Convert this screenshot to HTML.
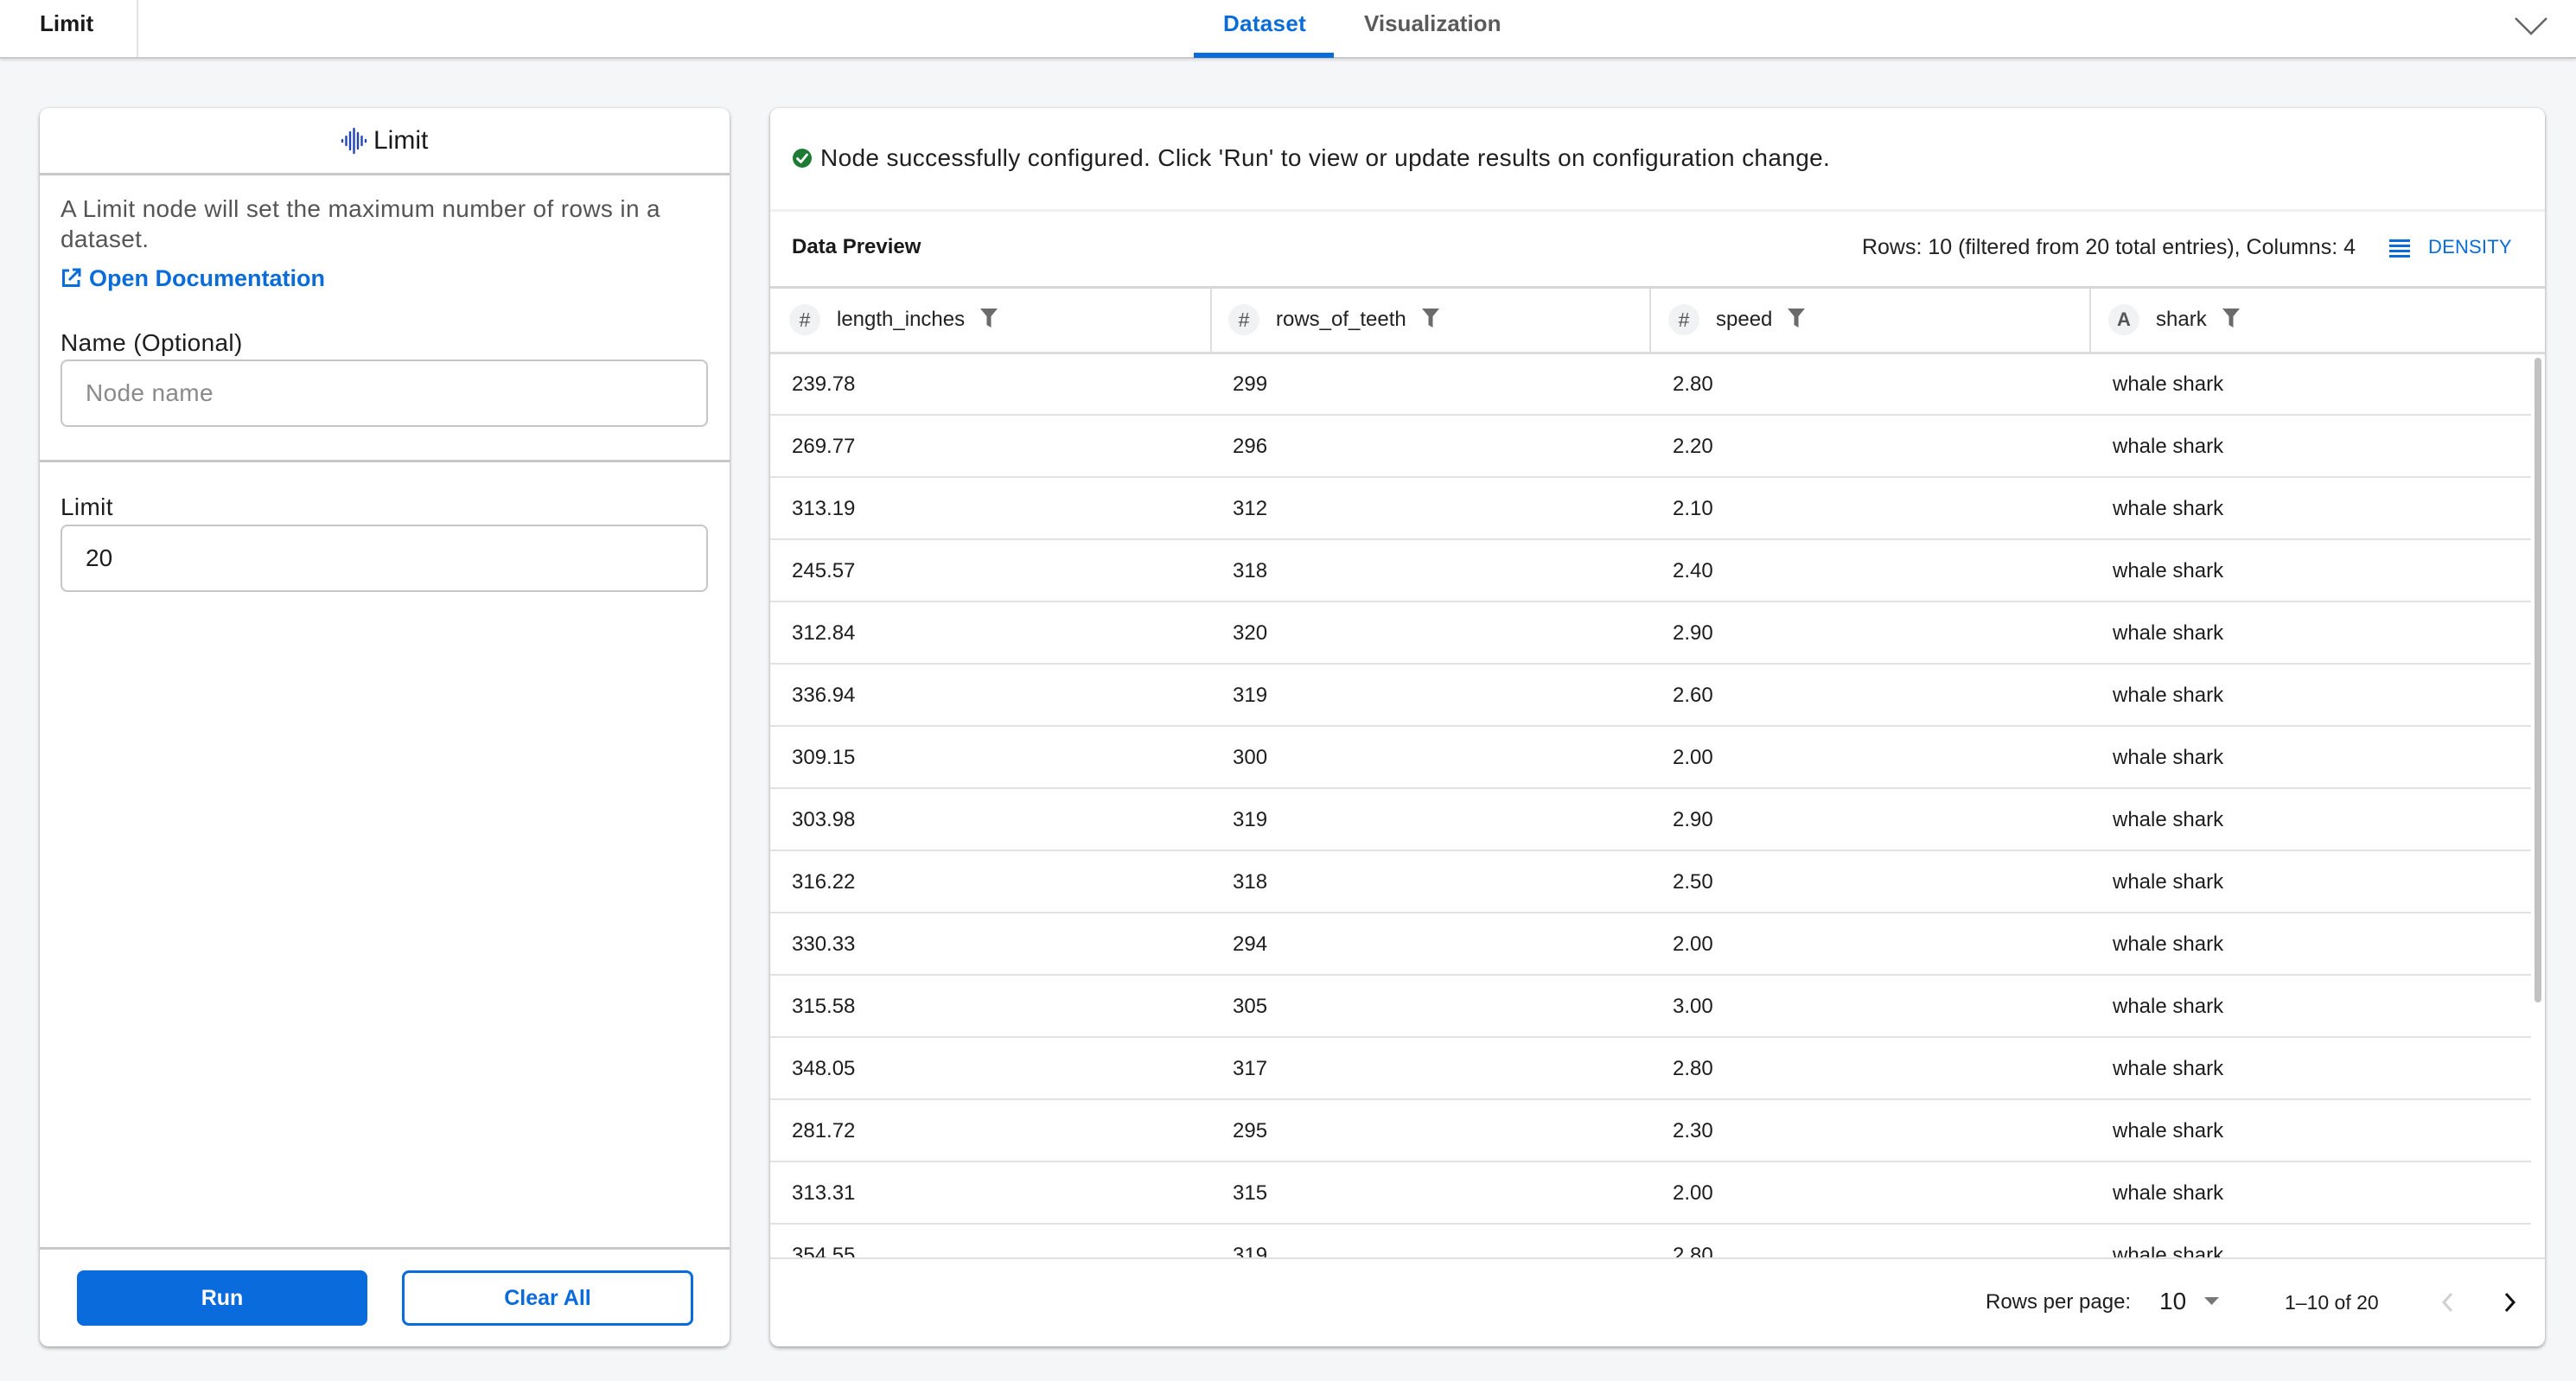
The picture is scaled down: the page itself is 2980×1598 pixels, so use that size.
<!DOCTYPE html>
<html>
<head>
<meta charset="utf-8">
<style>
  html,body{margin:0;padding:0;}
  body{width:2980px;height:1598px;background:#f5f6f7;overflow:hidden;position:relative;font-family:"Liberation Sans",Arial,sans-serif;color:#1d1d1d;}
  .t{position:absolute;white-space:nowrap;}
  .topbar{position:absolute;left:0;top:0;width:2980px;height:66px;background:#fff;border-bottom:2px solid #c9c9c9;box-shadow:0 2px 3px rgba(0,0,0,0.10);}
  .panel{position:absolute;background:#fff;border-radius:10px;box-shadow:0 2px 4px rgba(0,0,0,0.33),0 0 2px rgba(0,0,0,0.12);}
  .hline{position:absolute;left:0;height:3px;background:#c8c8c8;}
  .input{position:absolute;left:24px;width:745px;height:74px;border:2px solid #c6c6c6;border-radius:8px;background:#fff;}
  .lbl{font-size:28px;letter-spacing:0.35px;color:#1d1d1d;line-height:40px;}
  .row{position:absolute;left:0;width:2053px;height:72px;}
  .row .sep{position:absolute;left:0;top:70px;width:2037px;height:2px;background:#e2e2e2;}
  .cell{position:absolute;top:0;line-height:72px;font-size:24px;color:#1d1d1d;white-space:nowrap;}
  .hcell{position:absolute;top:227px;height:36px;display:flex;align-items:center;white-space:nowrap;}
  .circ{width:36px;height:36px;border-radius:50%;background:#f1f2f3;color:#555;font-size:23px;display:flex;align-items:center;justify-content:center;}
  .hlab{font-size:24px;color:#222;margin-left:19px;}
  .filt{margin-left:18px;margin-top:-4px;}
  .coldiv{position:absolute;top:209px;width:2px;height:73px;background:#dedede;}
</style>
</head>
<body>

<!-- TOP BAR -->
<div class="topbar">
  <div class="t" style="left:46px;top:0;line-height:54px;font-size:26px;font-weight:bold;color:#1a1a1a;">Limit</div>
  <div style="position:absolute;left:158px;top:0;width:2px;height:66px;background:#e2e2e2;"></div>
  <div class="t" style="left:1415px;top:0;line-height:55px;font-size:26px;font-weight:bold;color:#0a6cd8;letter-spacing:0.3px;">Dataset</div>
  <div style="position:absolute;left:1381px;top:61px;width:162px;height:6px;background:#0a6cd8;"></div>
  <div class="t" style="left:1578px;top:0;line-height:55px;font-size:26px;font-weight:bold;color:#5a5a5a;">Visualization</div>
  <svg style="position:absolute;left:2909px;top:19px;" width="38" height="22" viewBox="0 0 38 22"><polyline points="1,2 19,20 37,2" fill="none" stroke="#666" stroke-width="2.5"/></svg>
</div>

<!-- LEFT PANEL -->
<div class="panel" style="left:46px;top:125px;width:798px;height:1433px;">
  <svg style="position:absolute;left:348px;top:22px;" width="32" height="32" viewBox="0 0 32 32">
    <g stroke="#2343b8" stroke-width="2.4" stroke-linecap="round">
      <line x1="2" y1="15" x2="2" y2="17"/>
      <line x1="6.5" y1="11" x2="6.5" y2="21"/>
      <line x1="11" y1="6" x2="11" y2="26"/>
      <line x1="15.5" y1="2" x2="15.5" y2="30"/>
      <line x1="20" y1="7" x2="20" y2="25"/>
      <line x1="24.5" y1="11" x2="24.5" y2="21"/>
      <line x1="29" y1="15" x2="29" y2="17"/>
    </g>
  </svg>
  <div class="t" style="left:386px;top:18px;line-height:40px;font-size:30px;color:#1a1a1a;">Limit</div>
  <div class="hline" style="top:75px;width:798px;"></div>

  <div style="position:absolute;left:24px;top:99px;width:749px;font-size:28px;letter-spacing:0.35px;line-height:35px;color:#555;">A Limit node will set the maximum number of rows in a dataset.</div>

  <svg style="position:absolute;left:24px;top:185px;" width="24" height="24" viewBox="0 0 24 24">
    <path d="M10 3 H3.5 V20.5 H21 V14" fill="none" stroke="#0a6cd8" stroke-width="3"/>
    <path d="M14 2 H22 V10" fill="none" stroke="#0a6cd8" stroke-width="3"/>
    <line x1="21.5" y1="2.5" x2="10" y2="14" stroke="#0a6cd8" stroke-width="3"/>
  </svg>
  <div class="t" style="left:57px;top:177px;line-height:40px;font-size:27px;font-weight:bold;color:#0a6cd8;">Open Documentation</div>

  <div class="t lbl" style="left:24px;top:252px;">Name (Optional)</div>
  <div class="input" style="top:291px;">
    <div class="t" style="left:27px;top:0;line-height:74px;font-size:28px;letter-spacing:0.35px;color:#8a8a8a;">Node name</div>
  </div>
  <div class="hline" style="top:407px;width:798px;"></div>

  <div class="t lbl" style="left:24px;top:442px;">Limit</div>
  <div class="input" style="top:482px;">
    <div class="t" style="left:27px;top:0;line-height:74px;font-size:28px;color:#1d1d1d;">20</div>
  </div>

  <div class="hline" style="top:1318px;width:798px;"></div>

  <div style="position:absolute;left:43px;top:1345px;width:336px;height:64px;background:#0a6bdc;border-radius:8px;color:#fff;font-size:25px;font-weight:bold;line-height:64px;text-align:center;">Run</div>
  <div style="position:absolute;left:419px;top:1345px;width:331px;height:58px;border:3px solid #0a6bdc;border-radius:8px;color:#0a6bdc;font-size:25px;font-weight:bold;line-height:58px;text-align:center;">Clear All</div>
</div>

<!-- RIGHT PANEL -->
<div class="panel" style="left:891px;top:125px;width:2053px;height:1433px;overflow:hidden;">
  <svg style="position:absolute;left:26px;top:47px;" width="22" height="22" viewBox="0 0 22 22">
    <circle cx="11" cy="11" r="11" fill="#1e7b34"/>
    <polyline points="5.5,11.5 9.5,15.5 16.5,7" fill="none" stroke="#fff" stroke-width="2.8" stroke-linecap="round" stroke-linejoin="round"/>
  </svg>
  <div class="t" style="left:58px;top:38px;line-height:40px;font-size:28px;letter-spacing:0.35px;color:#1f1f1f;">Node successfully configured. Click 'Run' to view or update results on configuration change.</div>

  <div style="position:absolute;left:0;top:117px;width:2053px;height:3px;background:#f1f1f1;"></div>

  <div class="t" style="left:25px;top:146px;line-height:30px;font-size:24px;font-weight:bold;color:#1a1a1a;">Data Preview</div>
  <div class="t" style="right:219px;top:145px;line-height:32px;font-size:25px;color:#222;">Rows: 10 (filtered from 20 total entries), Columns: 4</div>
  <svg style="position:absolute;left:1873px;top:152px;" width="24" height="21" viewBox="0 0 24 21">
    <g fill="#0a6cd8"><rect x="0" y="0" width="24" height="3"/><rect x="0" y="6" width="24" height="3"/><rect x="0" y="12" width="24" height="3"/><rect x="0" y="18" width="24" height="3"/></g>
  </svg>
  <div class="t" style="left:1918px;top:146px;line-height:30px;font-size:22px;color:#0a6cd8;letter-spacing:0.2px;">DENSITY</div>

  <!-- header -->
  <div style="position:absolute;left:0;top:206px;width:2053px;height:3px;background:#d6d6d6;"></div>
  <div style="position:absolute;left:0;top:282px;width:2053px;height:3px;background:#dcdcdc;"></div>
  <div class="coldiv" style="left:509px;"></div>
  <div class="coldiv" style="left:1017px;"></div>
  <div class="coldiv" style="left:1526px;"></div>

  <div class="hcell" style="left:22px;"><div class="circ">#</div><span class="hlab">length_inches</span><svg class="filt" width="20" height="22" viewBox="0 0 20 22"><path d="M0 0 H20 L12.5 9 V22 L7.5 19 V9 Z" fill="#6b6b6b"/></svg></div>
  <div class="hcell" style="left:530px;"><div class="circ">#</div><span class="hlab">rows_of_teeth</span><svg class="filt" width="20" height="22" viewBox="0 0 20 22"><path d="M0 0 H20 L12.5 9 V22 L7.5 19 V9 Z" fill="#6b6b6b"/></svg></div>
  <div class="hcell" style="left:1039px;"><div class="circ">#</div><span class="hlab">speed</span><svg class="filt" width="20" height="22" viewBox="0 0 20 22"><path d="M0 0 H20 L12.5 9 V22 L7.5 19 V9 Z" fill="#6b6b6b"/></svg></div>
  <div class="hcell" style="left:1548px;"><div class="circ" style="font-weight:bold;font-size:22px;">A</div><span class="hlab">shark</span><svg class="filt" width="20" height="22" viewBox="0 0 20 22"><path d="M0 0 H20 L12.5 9 V22 L7.5 19 V9 Z" fill="#6b6b6b"/></svg></div>

  <!-- body -->
  <div style="position:absolute;left:0;top:284px;width:2053px;height:1046px;overflow:hidden;">
    <div class="row" style="top:0px;"><div class="cell" style="left:25px;">239.78</div><div class="cell" style="left:535px;">299</div><div class="cell" style="left:1044px;">2.80</div><div class="cell" style="left:1553px;">whale shark</div><div class="sep"></div></div>
    <div class="row" style="top:72px;"><div class="cell" style="left:25px;">269.77</div><div class="cell" style="left:535px;">296</div><div class="cell" style="left:1044px;">2.20</div><div class="cell" style="left:1553px;">whale shark</div><div class="sep"></div></div>
    <div class="row" style="top:144px;"><div class="cell" style="left:25px;">313.19</div><div class="cell" style="left:535px;">312</div><div class="cell" style="left:1044px;">2.10</div><div class="cell" style="left:1553px;">whale shark</div><div class="sep"></div></div>
    <div class="row" style="top:216px;"><div class="cell" style="left:25px;">245.57</div><div class="cell" style="left:535px;">318</div><div class="cell" style="left:1044px;">2.40</div><div class="cell" style="left:1553px;">whale shark</div><div class="sep"></div></div>
    <div class="row" style="top:288px;"><div class="cell" style="left:25px;">312.84</div><div class="cell" style="left:535px;">320</div><div class="cell" style="left:1044px;">2.90</div><div class="cell" style="left:1553px;">whale shark</div><div class="sep"></div></div>
    <div class="row" style="top:360px;"><div class="cell" style="left:25px;">336.94</div><div class="cell" style="left:535px;">319</div><div class="cell" style="left:1044px;">2.60</div><div class="cell" style="left:1553px;">whale shark</div><div class="sep"></div></div>
    <div class="row" style="top:432px;"><div class="cell" style="left:25px;">309.15</div><div class="cell" style="left:535px;">300</div><div class="cell" style="left:1044px;">2.00</div><div class="cell" style="left:1553px;">whale shark</div><div class="sep"></div></div>
    <div class="row" style="top:504px;"><div class="cell" style="left:25px;">303.98</div><div class="cell" style="left:535px;">319</div><div class="cell" style="left:1044px;">2.90</div><div class="cell" style="left:1553px;">whale shark</div><div class="sep"></div></div>
    <div class="row" style="top:576px;"><div class="cell" style="left:25px;">316.22</div><div class="cell" style="left:535px;">318</div><div class="cell" style="left:1044px;">2.50</div><div class="cell" style="left:1553px;">whale shark</div><div class="sep"></div></div>
    <div class="row" style="top:648px;"><div class="cell" style="left:25px;">330.33</div><div class="cell" style="left:535px;">294</div><div class="cell" style="left:1044px;">2.00</div><div class="cell" style="left:1553px;">whale shark</div><div class="sep"></div></div>
    <div class="row" style="top:720px;"><div class="cell" style="left:25px;">315.58</div><div class="cell" style="left:535px;">305</div><div class="cell" style="left:1044px;">3.00</div><div class="cell" style="left:1553px;">whale shark</div><div class="sep"></div></div>
    <div class="row" style="top:792px;"><div class="cell" style="left:25px;">348.05</div><div class="cell" style="left:535px;">317</div><div class="cell" style="left:1044px;">2.80</div><div class="cell" style="left:1553px;">whale shark</div><div class="sep"></div></div>
    <div class="row" style="top:864px;"><div class="cell" style="left:25px;">281.72</div><div class="cell" style="left:535px;">295</div><div class="cell" style="left:1044px;">2.30</div><div class="cell" style="left:1553px;">whale shark</div><div class="sep"></div></div>
    <div class="row" style="top:936px;"><div class="cell" style="left:25px;">313.31</div><div class="cell" style="left:535px;">315</div><div class="cell" style="left:1044px;">2.00</div><div class="cell" style="left:1553px;">whale shark</div><div class="sep"></div></div>
    <div class="row" style="top:1008px;"><div class="cell" style="left:25px;">354.55</div><div class="cell" style="left:535px;">319</div><div class="cell" style="left:1044px;">2.80</div><div class="cell" style="left:1553px;">whale shark</div><div class="sep"></div></div>
    <div style="position:absolute;left:2041px;top:5px;width:8px;height:746px;background:#c2c2c2;border-radius:4px;"></div>
  </div>

  <!-- footer -->
  <div style="position:absolute;left:0;top:1330px;width:2053px;height:2px;background:#e0e0e0;"></div>
  <div class="t" style="left:1406px;top:1366px;line-height:32px;font-size:24px;color:#1d1d1d;">Rows per page:</div>
  <div class="t" style="left:1607px;top:1362px;line-height:38px;font-size:28px;color:#1d1d1d;">10</div>
  <svg style="position:absolute;left:1659px;top:1376px;" width="17" height="9" viewBox="0 0 17 9"><path d="M0 0 H17 L8.5 9 Z" fill="#777"/></svg>
  <div class="t" style="left:1752px;top:1366px;line-height:32px;font-size:23px;color:#1d1d1d;">1–10 of 20</div>
  <svg style="position:absolute;left:1933px;top:1371px;" width="14" height="22" viewBox="0 0 14 22"><polyline points="12,1 3,11 12,21" fill="none" stroke="#d0d0d0" stroke-width="3"/></svg>
  <svg style="position:absolute;left:2006px;top:1371px;" width="14" height="22" viewBox="0 0 14 22"><polyline points="2,1 11,11 2,21" fill="none" stroke="#111" stroke-width="3"/></svg>
</div>

</body>
</html>
